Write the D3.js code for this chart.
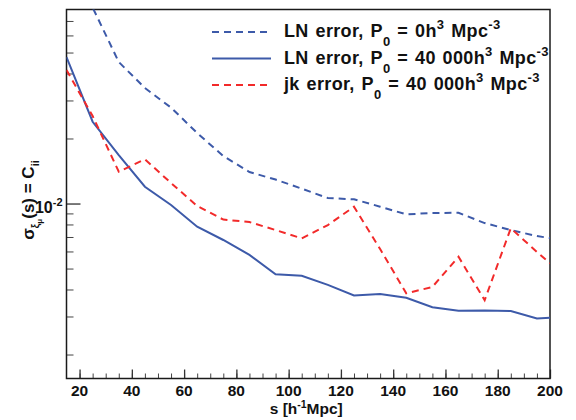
<!DOCTYPE html>
<html>
<head>
<meta charset="utf-8">
<script src="https://cdnjs.cloudflare.com/ajax/libs/d3/7.8.5/d3.min.js"></script>
<style>
  body { margin: 0; background: #fff; }
  text { font-family: "Liberation Sans", Arial, sans-serif; font-weight: bold; fill: #111; }
</style>
</head>
<body>
<div id="chart"></div>
<script>
// separation s [h^-1 Mpc]
var sValues = [15, 25, 35, 45, 55, 65, 75, 85, 95, 105, 115, 125, 135, 145, 155, 165, 175, 185, 195, 200];

// LN error, P0 = 0
var lnErrP0 = [0.1414, 0.0808, 0.0452, 0.03425, 0.0278, 0.0212, 0.01659, 0.01399, 0.01291, 0.01172,
               0.0106, 0.01046, 0.00967, 0.00891, 0.00904, 0.00906, 0.00812, 0.00754, 0.00707, 0.00692];
// LN error, P0 = 40 000
var lnErrP40k = [0.04767, 0.02391, 0.01677, 0.01196, 0.00984, 0.00781, 0.00678, 0.00578, 0.0047, 0.00463,
                 0.0042, 0.00375, 0.00381, 0.00366, 0.00331, 0.00319, 0.0032, 0.00318, 0.00294, 0.00296];
// jackknife error, P0 = 40 000
var jkErrP40k = [0.0415, 0.0254, 0.01404, 0.01602, 0.01244, 0.00974, 0.00843, 0.00821, 0.00754, 0.0069,
                 0.00795, 0.00966, 0.00616, 0.00384, 0.00411, 0.00567, 0.00357, 0.00768, 0.00597, 0.00529];

var xTicks = [20, 40, 60, 80, 100, 120, 140, 160, 180, 200];
var xMinorTicks = [20, 25, 30, 35, 40, 45, 50, 55, 60, 65, 70, 75, 80, 85, 90, 95, 100, 105, 110, 115, 120,
                   125, 130, 135, 140, 145, 150, 155, 160, 165, 170, 175, 180, 185, 190, 195, 200];
var yMajorTicks = [0.01];
var yMinorTicks = [0.002, 0.003, 0.004, 0.005, 0.006, 0.007, 0.008, 0.009, 0.02, 0.03, 0.04, 0.05, 0.06, 0.07];

var blue = "#3d5aa9", red = "#f22a2a";

var width = 576, height = 420;
var margin = {top: 9.5, right: 26, bottom: 41.5, left: 66.5};
var Chartwidth = width - margin.left - margin.right,
    Chartheight = height - margin.top - margin.bottom;

var svg = d3.select("#chart").append("svg")
    .attr("width", width)
    .attr("height", height);

var x = d3.scaleLinear().domain([15, 200]).range([0, Chartwidth]);
var y = d3.scaleLog().domain([0.001549, 0.0791]).range([Chartheight, 0]);

var g = svg.append("g")
    .attr("transform", "translate(" + margin.left + "," + margin.top + ")");

g.append("clipPath").attr("id", "plotclip")
  .append("rect").attr("width", Chartwidth).attr("height", Chartheight);

// x axis ticks (inside, from bottom)
g.append("g")
    .attr("transform", "translate(0," + Chartheight + ")")
    .call(d3.axisTop(x).tickValues(xMinorTicks).tickSize(5).tickFormat(""))
    .call(function(a) { a.select(".domain").remove(); a.selectAll("line").attr("stroke", "#444"); });
g.append("g")
    .attr("transform", "translate(0," + Chartheight + ")")
    .call(d3.axisTop(x).tickValues(xTicks).tickSize(9).tickFormat(""))
    .call(function(a) { a.select(".domain").remove(); a.selectAll("line").attr("stroke", "#333").attr("stroke-width", 1.3); });

g.selectAll(".xlab")
    .data(xTicks)
  .enter().append("text")
    .attr("class", "xlab")
    .attr("x", function(d) { return x(d); })
    .attr("y", Chartheight + 17.5)
    .attr("text-anchor", "middle")
    .style("font-size", "15.5px")
    .text(function(d) { return d; });

// y axis ticks (inside, from left)
g.append("g")
    .call(d3.axisRight(y).tickValues(yMinorTicks).tickSize(7).tickFormat(""))
    .call(function(a) { a.select(".domain").remove(); a.selectAll("line").attr("stroke", "#444"); });
g.append("g")
    .call(d3.axisRight(y).tickValues(yMajorTicks).tickSize(14).tickFormat(""))
    .call(function(a) { a.select(".domain").remove(); a.selectAll("line").attr("stroke", "#333").attr("stroke-width", 1.3); });

yMajorTicks.forEach(function(v) {
  var t = g.append("text")
      .attr("x", -4)
      .attr("y", y(v) + 9)
      .attr("text-anchor", "end")
      .style("font-size", "16px");
  t.append("tspan").text("10");
  t.append("tspan").attr("dy", -7).style("font-size", "11px").text("-" + Math.round(-Math.log10(v)));
});

// frame
g.append("rect")
    .attr("width", Chartwidth)
    .attr("height", Chartheight)
    .attr("fill", "none")
    .attr("stroke", "#1a1a1a")
    .attr("stroke-width", 1.5);

// lines
var series = [
  {values: lnErrP0, color: blue, dash: "7,5"},
  {values: lnErrP40k, color: blue, dash: null},
  {values: jkErrP40k, color: red, dash: "7,5"}
];

var line = d3.line()
    .x(function(d, i) { return x(sValues[i]); })
    .y(function(d) { return y(d); });

g.append("g").attr("clip-path", "url(#plotclip)")
  .selectAll(".series")
    .data(series)
  .enter().append("path")
    .attr("class", "series")
    .attr("fill", "none")
    .attr("stroke", function(d) { return d.color; })
    .attr("stroke-width", 2)
    .attr("stroke-dasharray", function(d) { return d.dash; })
    .attr("d", function(d) { return line(d.values); });

// legend
var legendItems = [
  {parts: [["LN error, P"], ["0", "sub"], [" = 0h"], ["3", "sup"], [" Mpc"], ["-3", "sup"]], color: blue, dash: "7,5"},
  {parts: [["LN error, P"], ["0", "sub"], [" = 40 000h"], ["3", "sup"], [" Mpc"], ["-3", "sup"]], color: blue, dash: null},
  {parts: [["jk error, P"], ["0", "sub"], [" = 40 000h"], ["3", "sup"], [" Mpc"], ["-3", "sup"]], color: red, dash: "7,5"}
];

function richText(sel, parts) {
  var shift = 0;
  parts.forEach(function(p) {
    var target = p[1] === "sub" ? 9 : p[1] === "sup" ? -8 : 0;
    sel.append("tspan")
        .attr("dy", target - shift)
        .style("font-size", p[1] ? "13px" : null)
        .text(p[0]);
    shift = target;
  });
}

legendItems.forEach(function(d, i) {
  var ly = 32 + i * 26.5;
  svg.append("line")
      .attr("x1", 212).attr("x2", 271)
      .attr("y1", ly).attr("y2", ly)
      .attr("stroke", d.color)
      .attr("stroke-width", 2)
      .attr("stroke-dasharray", d.dash);
  var t = svg.append("text")
      .attr("x", 284)
      .attr("y", ly + 5)
      .style("font-size", "18px")
      .style("letter-spacing", "0.35px")
      .style("word-spacing", "1.5px");
  richText(t, d.parts);
});

// axis titles
var xt = svg.append("text")
    .attr("x", margin.left + Chartwidth / 2 - 2)
    .attr("y", 413.5)
    .attr("text-anchor", "middle")
    .style("font-size", "15.5px");
xt.append("tspan").text("s [h");
xt.append("tspan").attr("dy", -6).style("font-size", "10.5px").text("-1");
xt.append("tspan").attr("dy", 6).text("Mpc]");

var yt = svg.append("text")
    .attr("transform", "translate(34,200) rotate(-90)")
    .attr("text-anchor", "middle")
    .style("font-size", "17px");
yt.append("tspan").text("σ");
yt.append("tspan").attr("dy", 5).style("font-size", "10px").text("ξ");
yt.append("tspan").attr("dy", 3).style("font-size", "8px").text("μ");
yt.append("tspan").attr("dy", -8).text("(s) = C");
yt.append("tspan").attr("dy", 5).style("font-size", "11px").text("ii");
</script>
</body>
</html>
